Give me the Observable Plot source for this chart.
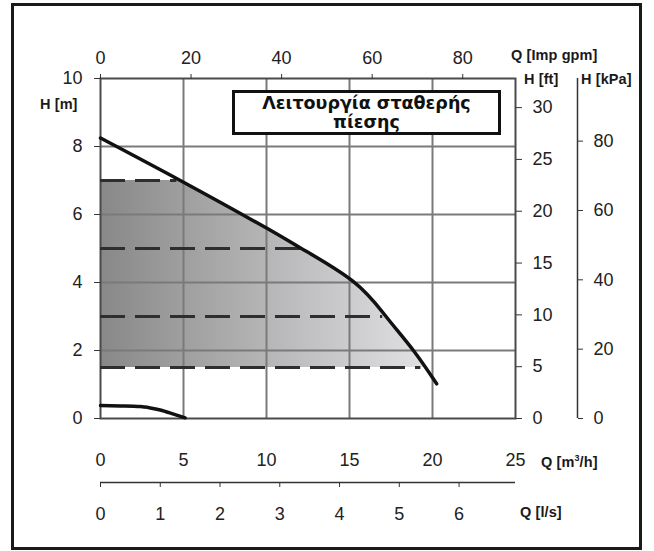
<!DOCTYPE html>
<html><head><meta charset="utf-8">
<script src="https://cdn.jsdelivr.net/npm/d3@7"></script>
<script src="https://cdn.jsdelivr.net/npm/@observablehq/plot@0.6"></script>
<style>
body{margin:0;background:#fff;}
#wrap{position:relative;width:654px;height:551px;overflow:hidden;background:#fff;font-family:"Liberation Sans",Arial,sans-serif;}
#wrap svg{position:absolute;left:0;top:0;overflow:visible;}
.frame{position:absolute;left:11px;top:3px;width:625px;height:541px;border:3px solid #1a1a1a;}
.unit{position:absolute;font-weight:bold;font-size:14.5px;letter-spacing:0.1px;color:#1a1a1a;white-space:nowrap;transform:translate(0,-50%);}
.title{position:absolute;left:232px;top:90px;width:263px;height:38px;padding-top:1px;border:3px solid #111;background:#fff;font-family:"DejaVu Sans",sans-serif;font-weight:bold;font-size:17.5px;text-align:center;line-height:19px;color:#111;z-index:5;}
</style>
</head><body>
<div id="wrap">
<div class="frame"></div>
</div>
<script>
// ---- data ----
const qTicks = [0, 5, 10, 15, 20, 25];          // Q [m3/h]
const hTicks = [0, 2, 4, 6, 8, 10];             // H [m]
const gridQ = [5, 10, 15, 20];
const gridH = [2, 4, 6, 8];
const gpmTicks = [0, 20, 40, 60, 80];           // Q [Imp gpm]
const ftTicks = [0, 5, 10, 15, 20, 25, 30];     // H [ft]
const kpaTicks = [0, 20, 40, 60, 80];           // H [kPa]
const lsTicks = [0, 1, 2, 3, 4, 5, 6];          // Q [l/s]
const curveQ = [0, 5, 10, 12.1, 15.2, 17.2, 18.85, 20.25];
const curveH = [8.25, 6.95, 5.6, 5.0, 4.04, 3.0, 2.0, 1.02];
const shadeEndQ = 19.6;                          // curve meets the 1.5 m level
const lowQ = [0, 1.2, 2.4, 3, 3.6, 4.4, 5.1];
const lowH = [0.38, 0.37, 0.35, 0.31, 0.25, 0.13, 0.02];
const levelH = [7, 5, 3, 1.5];
const levelEndQ = [4.6, 12.1, 17.0, 19.3];
const titleLines = ["Λειτουργία σταθερής", "πίεσης"];

// unit conversions
const M3H_TO_GPM = 219.969 / 60;
const M3H_TO_LS = 1 / 3.6;
const M_TO_FT = 3.28084;
const M_TO_KPA = 9.80665;

const QMAX = 25, HMAX = 10;
const W = 654, H = 551, mL = 100, mR = 139, mT = 78, mB = 133;

const curve = curveQ.map((q, i) => ({q, h: curveH[i]}));
const low = lowQ.map((q, i) => ({q, h: lowH[i]}));
const levels = levelH.map((h, i) => ({h, q: levelEndQ[i]}));
const topLevel = d3.max(levelH), baseLevel = d3.min(levelH);

const font = '"Liberation Sans", Arial, sans-serif';
const baseStyle = {fontFamily: font, fontSize: "18px", color: "#222", background: "transparent", overflow: "visible"};

const defsMark = () => {
  const defs = d3.create("svg:defs");
  const g = defs.append("linearGradient").attr("id", "shadeGrad")
    .attr("x1", "0").attr("x2", "1").attr("y1", "0").attr("y2", "0");
  g.append("stop").attr("offset", "0%").attr("stop-color", "#888888");
  g.append("stop").attr("offset", "100%").attr("stop-color", "#e4e4e7");
  return defs.node();
};

// shaded operating region: under the pump curve, between lowest and highest pressure levels
const shadeMark = (index, scales) => {
  const {x, y} = scales;
  const gEl = d3.create("svg:g");
  const id = "shadeClip";
  gEl.append("clipPath").attr("id", id).append("rect")
    .attr("x", x(0)).attr("width", x(shadeEndQ) - x(0))
    .attr("y", y(topLevel)).attr("height", y(baseLevel) - y(topLevel));
  const areaGen = d3.area().curve(d3.curveNatural).x(d => x(d.q)).y0(y(0)).y1(d => y(d.h));
  gEl.append("path").attr("d", areaGen(curve)).attr("fill", "url(#shadeGrad)").attr("clip-path", `url(#${id})`);
  return gEl.node();
};

const main = Plot.plot({
  width: W, height: H, marginLeft: mL, marginRight: mR, marginTop: mT, marginBottom: mB,
  style: baseStyle,
  x: {domain: [0, QMAX]},
  y: {domain: [0, HMAX]},
  marks: [
    defsMark,
    shadeMark,
    Plot.ruleX(gridQ, {stroke: "#7a7a7a", strokeWidth: 2}),
    Plot.ruleY(gridH, {stroke: "#7a7a7a", strokeWidth: 2}),
    Plot.frame({stroke: "#4a4a4a", strokeWidth: 2}),
    Plot.ruleY(levels, {y: "h", x1: 0, x2: "q", stroke: "#2e2e2e", strokeWidth: 3, strokeDasharray: "25,10"}),
    Plot.line(curve, {x: "q", y: "h", curve: "natural", stroke: "#111", strokeWidth: 3.5}),
    Plot.line(low, {x: "q", y: "h", curve: "monotone-x", stroke: "#111", strokeWidth: 3.5}),
    Plot.axisY(hTicks, {anchor: "left", tickSize: 6, tickPadding: 12, label: null, stroke: "#333"}),
    Plot.axisX(qTicks, {anchor: "bottom", tickSize: 0, tickPadding: 35, label: null})
  ]
});

const gpm = Plot.plot({
  width: W, height: H, marginLeft: mL, marginRight: mR, marginTop: mT, marginBottom: mB,
  style: baseStyle,
  x: {domain: [0, QMAX * M3H_TO_GPM]},
  marks: [Plot.axisX(gpmTicks, {anchor: "top", tickSize: 5, tickPadding: 10, label: null, stroke: "#333"})]
});

const ft = Plot.plot({
  width: W, height: H, marginLeft: mL, marginRight: mR, marginTop: mT, marginBottom: mB,
  style: baseStyle,
  y: {domain: [0, HMAX * M_TO_FT]},
  marks: [Plot.axisY(ftTicks, {anchor: "right", tickSize: 6, tickPadding: 11, label: null, stroke: "#333"})]
});

const kpa = Plot.plot({
  width: W, height: H, marginLeft: 500, marginRight: 77, marginTop: mT, marginBottom: mB,
  style: baseStyle,
  x: {domain: [0, 1], axis: null},
  y: {domain: [0, HMAX * M_TO_KPA]},
  marks: [
    Plot.ruleX([1], {stroke: "#333", strokeWidth: 1.5}),
    Plot.axisY(kpaTicks, {anchor: "right", tickSize: 5, tickPadding: 11, label: null, stroke: "#333"})
  ]
});

const ls = Plot.plot({
  width: W, height: H, marginLeft: mL, marginRight: mR, marginTop: 400, marginBottom: 69,
  style: baseStyle,
  x: {domain: [0, QMAX * M3H_TO_LS]},
  y: {domain: [0, 1], axis: null},
  marks: [
    Plot.ruleY([0], {stroke: "#333", strokeWidth: 1.5}),
    Plot.axisX(lsTicks, {anchor: "bottom", tickSize: 5, tickPadding: 20, label: null, stroke: "#333"})
  ]
});

const wrap = document.getElementById("wrap");
[main, gpm, ft, kpa, ls].forEach(p => wrap.appendChild(p));

const units = [
  {t: "H [m]", x: 40, y: 104},
  {t: "Q [Imp gpm]", x: 511, y: 55},
  {t: "H [ft]", x: 524, y: 79},
  {t: "H [kPa]", x: 581, y: 79},
  {t: "Q [m<sup style='font-size:9px;vertical-align:6px'>3</sup>/h]", x: 541, y: 461},
  {t: "Q [l/s]", x: 520, y: 512}
];
units.forEach(u => {
  const d = document.createElement("div");
  d.className = "unit";
  d.style.left = u.x + "px";
  d.style.top = u.y + "px";
  d.innerHTML = u.t;
  wrap.appendChild(d);
});

const title = document.createElement("div");
title.className = "title";
title.innerHTML = titleLines.join("<br>");
wrap.appendChild(title);
</script>
</body></html>
